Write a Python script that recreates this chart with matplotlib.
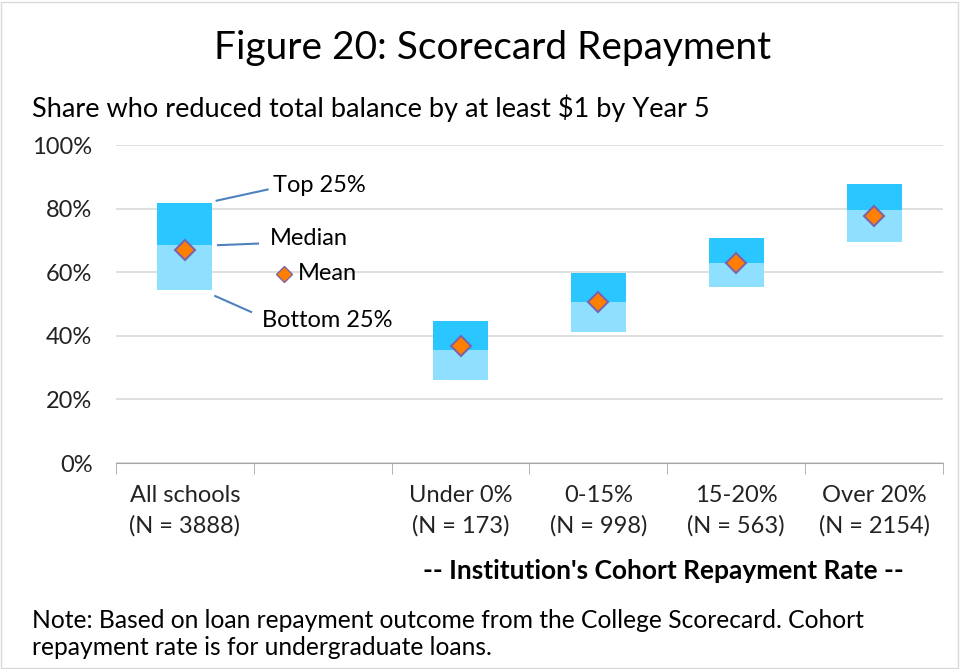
import numpy as np
import matplotlib.pyplot as plt
from matplotlib.patches import Rectangle

plt.rcParams['font.family'] = ['Lato', 'DejaVu Sans']

# data (share, %)
categories = ["All schools\n(N = 3888)", "", "Under 0%\n(N = 173)", "0-15%\n(N = 998)",
              "15-20%\n(N = 563)", "Over 20%\n(N = 2154)"]
bottom_25 = [54.3, None, 26.0, 41.3, 55.3, 69.4]
median = [68.6, None, 35.5, 50.5, 62.9, 79.7]
top_25 = [81.7, None, 44.8, 59.7, 70.9, 87.7]
mean = [66.9, None, 36.9, 50.6, 62.9, 77.7]

light_blue = '#8FE0FF'
dark_blue = '#29C6FF'
orange = '#FF8000'
purple = '#7E63A6'

fig = plt.figure(figsize=(9.61, 6.69), dpi=100)
ax = fig.add_axes([116/961, (669-463)/669, 827/961, 318/669])

x = np.arange(len(categories))
for i in x:
    if median[i] is None:
        continue
    ax.bar(i, median[i] - bottom_25[i], bottom=bottom_25[i], width=0.4, color=light_blue, zorder=2)
    ax.bar(i, top_25[i] - median[i], bottom=median[i], width=0.4, color=dark_blue, zorder=2)
    ax.plot(i, mean[i], marker='D', markersize=10, color=orange, markeredgecolor=purple,
            markeredgewidth=1.5, zorder=3)

ax.set_xlim(-0.5, len(categories) - 0.5)
ax.set_ylim(0, 100)
ax.set_yticks(np.arange(0, 101, 20))
ax.set_yticklabels([f"{v}%" for v in range(0, 101, 20)], fontsize=17, color='#222222')
ax.set_xticks(x)
ax.set_xticklabels(categories, fontsize=17, color='#222222', linespacing=1.5)
ax.set_xticks(np.arange(-0.5, len(categories)), minor=True)
ax.tick_params(axis='x', which='major', length=0, pad=16)
ax.tick_params(axis='x', which='minor', length=8, color='#A6A6A6')
ax.tick_params(axis='y', length=0, pad=17)
ax.grid(axis='y', color='#D9D9D9', linewidth=1.2, zorder=0)
ax.set_axisbelow(True)
for s in ['left', 'right', 'top']:
    ax.spines[s].set_visible(False)
ax.spines['bottom'].set_color('#A6A6A6')

# legend-like annotations next to the first box
line_kw = dict(color='#4F81BD', linewidth=1.5, clip_on=False)
ax.plot([0.23, 0.60], [82.5, 86.0], **line_kw)
ax.plot([0.24, 0.53], [68.5, 69.0], **line_kw)
ax.plot([0.22, 0.48], [52.5, 47.5], **line_kw)
ax.text(0.64, 87.3, "Top 25%", fontsize=17, va='center', ha='left')
ax.text(0.62, 70.6, "Median", fontsize=17, va='center', ha='left')
ax.plot(0.72, 59.5, marker='D', markersize=8, color=orange, markeredgecolor=purple, markeredgewidth=1)
ax.text(0.82, 59.5, "Mean", fontsize=17, va='center', ha='left')
ax.text(0.56, 44.8, "Bottom 25%", fontsize=17, va='center', ha='left')

fig.text(493/961, 1 - 48/669, "Figure 20: Scorecard Repayment", fontsize=28, ha='center', va='center')
fig.text(32/961, 1 - 108/669, "Share who reduced total balance by at least $1 by Year 5", fontsize=19.5,
         ha='left', va='center')
fig.text(663/961, 1 - 571/669, "-- Institution's Cohort Repayment Rate --", fontsize=19,
         fontweight='bold', ha='center', va='center')
fig.text(32/961, 1 - 634/669,
         "Note: Based on loan repayment outcome from the College Scorecard. Cohort\nrepayment rate is for undergraduate loans.",
         fontsize=17.7, ha='left', va='center', linespacing=1.25)

fig.patches.append(Rectangle((0.001, 0.001), 0.996, 0.996, transform=fig.transFigure, fill=False,
                             edgecolor='#D9D9D9', linewidth=1))

fig.savefig('out.png', dpi=100)
